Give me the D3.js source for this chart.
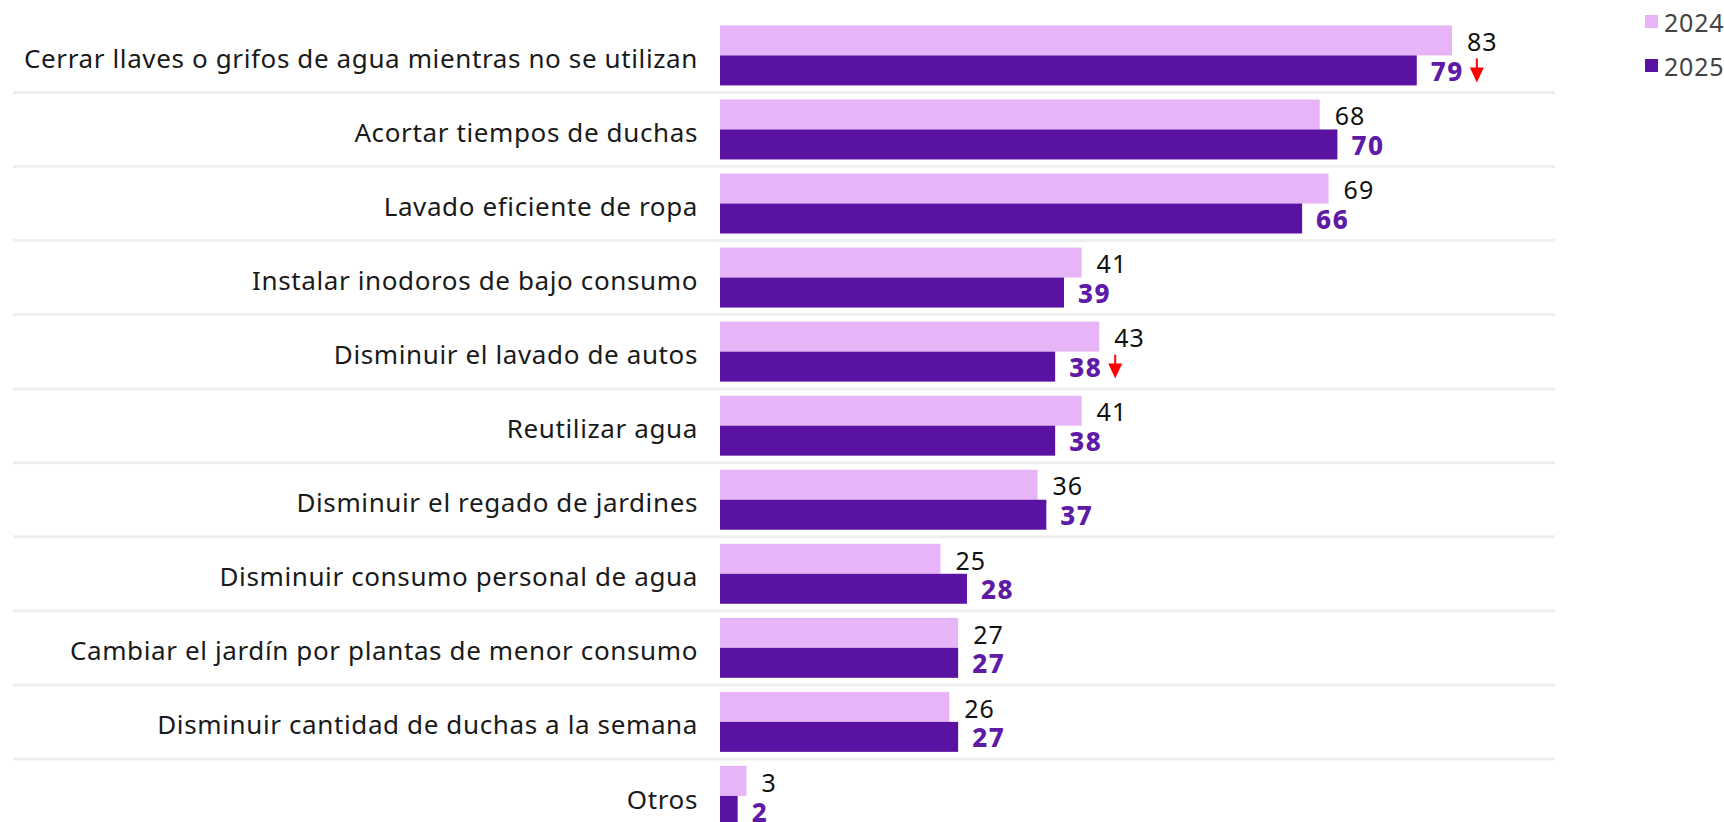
<!DOCTYPE html>
<html>
<head>
<meta charset="utf-8">
<script src="https://cdn.jsdelivr.net/npm/d3@7"></script>
<style>
  body { margin: 0; background: #fff; }
  svg { display: block; }
</style>
</head>
<body>
<script>
// data
var categories = [
  "Cerrar llaves o grifos de agua mientras no se utilizan",
  "Acortar tiempos de duchas",
  "Lavado eficiente de ropa",
  "Instalar inodoros de bajo consumo",
  "Disminuir el lavado de autos",
  "Reutilizar agua",
  "Disminuir el regado de jardines",
  "Disminuir consumo personal de agua",
  "Cambiar el jardín por plantas de menor consumo",
  "Disminuir cantidad de duchas a la semana",
  "Otros"
];
var years = ["2024", "2025"];
var values2024 = [83, 68, 69, 41, 43, 41, 36, 25, 27, 26, 3];
var values2025 = [79, 70, 66, 39, 38, 38, 37, 28, 27, 27, 2];
var dropFlags = [true, false, false, false, true, false, false, false, false, false, false];

var W = 1724, H = 822;
var font = "'Noto Sans', sans-serif";
var colors = { "2024": "#e8b4f8", "2025": "#5a12a3" };

var svg = d3.select("body").append("svg")
    .attr("width", W)
    .attr("height", H);

// scales
var x = d3.scaleLinear()
    .domain([0, 100])
    .range([720, 1602]);

var y = d3.scaleBand()
    .domain(categories)
    .range([18.4, 18.4 + 74.05 * categories.length])
    .paddingInner(0.19)
    .paddingOuter(0.095);

var ySub = d3.scaleBand()
    .domain(years)
    .range([0, y.bandwidth()]);

var rows = categories.map(function(c, i) {
  return { cat: c, v2024: values2024[i], v2025: values2025[i], drop: dropFlags[i] };
});

// separators
svg.selectAll(".sep")
    .data(categories.slice(0, -1))
    .enter()
    .append("line")
    .attr("x1", 13)
    .attr("x2", 1555)
    .attr("y1", function(d) { return y(d) + y.bandwidth() + (y.step() - y.bandwidth()) / 2; })
    .attr("y2", function(d) { return y(d) + y.bandwidth() + (y.step() - y.bandwidth()) / 2; })
    .attr("stroke", "#efefef")
    .attr("stroke-width", 3);

// category labels
svg.selectAll(".cat")
    .data(rows)
    .enter()
    .append("text")
    .attr("x", 698)
    .attr("y", function(d) { return y(d.cat) + y.bandwidth() / 2 + 3.5; })
    .attr("dy", "0.35em")
    .attr("text-anchor", "end")
    .attr("font-family", font)
    .attr("font-size", 26)
    .attr("letter-spacing", 0.62)
    .attr("fill", "#1a1a1a")
    .text(function(d) { return d.cat; });

// bars
var g = svg.selectAll(".row")
    .data(rows)
    .enter()
    .append("g")
    .attr("transform", function(d) { return "translate(0," + y(d.cat) + ")"; });

g.append("rect")
    .attr("x", x(0))
    .attr("y", ySub("2024"))
    .attr("width", function(d) { return x(d.v2024) - x(0); })
    .attr("height", ySub.bandwidth())
    .attr("fill", colors["2024"]);

g.append("rect")
    .attr("x", x(0))
    .attr("y", ySub("2025"))
    .attr("width", function(d) { return x(d.v2025) - x(0); })
    .attr("height", ySub.bandwidth())
    .attr("fill", colors["2025"]);

// value labels
g.append("text")
    .attr("x", function(d) { return x(d.v2024) + 15; })
    .attr("y", ySub("2024") + ySub.bandwidth() / 2 + 2)
    .attr("dy", "0.35em")
    .attr("font-family", font)
    .attr("font-size", 25)
    .attr("letter-spacing", 1)
    .attr("fill", "#111")
    .text(function(d) { return d.v2024; });

var lab25 = g.append("text")
    .attr("class", "v25")
    .attr("x", function(d) { return x(d.v2025) + 14; })
    .attr("y", ySub("2025") + ySub.bandwidth() / 2 + 1.5)
    .attr("dy", "0.35em")
    .attr("font-family", font)
    .attr("font-size", 26)
    .attr("letter-spacing", 1.5)
    .attr("font-weight", 800)
    .attr("fill", "#5f1aa8")
    .text(function(d) { return d.v2025; });

// red down arrows where the value dropped
lab25.each(function(d) {
  if (!d.drop) return;
  var end = x(d.v2025) + 14 + this.getComputedTextLength();
  var ax = end + 13;
  var top = ySub("2025") + 3, tip = ySub("2025") + ySub.bandwidth() - 3;
  var row = d3.select(this.parentNode);
  row.append("line")
      .attr("x1", ax).attr("x2", ax)
      .attr("y1", top).attr("y2", tip - 12)
      .attr("stroke", "#ff0000")
      .attr("stroke-width", 2);
  row.append("path")
      .attr("d", "M" + (ax - 7) + "," + (tip - 15) + "L" + (ax + 7) + "," + (tip - 15) + "L" + ax + "," + tip + "Z")
      .attr("fill", "#ff0000");
});

// legend
var legend = svg.selectAll(".leg")
    .data(years)
    .enter()
    .append("g")
    .attr("transform", function(d, i) { return "translate(1645," + (15 + i * 44) + ")"; });

legend.append("rect")
    .attr("width", 13)
    .attr("height", 13)
    .attr("fill", function(d) { return colors[d]; });

legend.append("text")
    .attr("x", 19)
    .attr("y", 8)
    .attr("dy", "0.35em")
    .attr("font-family", font)
    .attr("font-size", 25)
    .attr("letter-spacing", 0.8)
    .attr("fill", "#444")
    .text(function(d) { return d; });
</script>
</body>
</html>
